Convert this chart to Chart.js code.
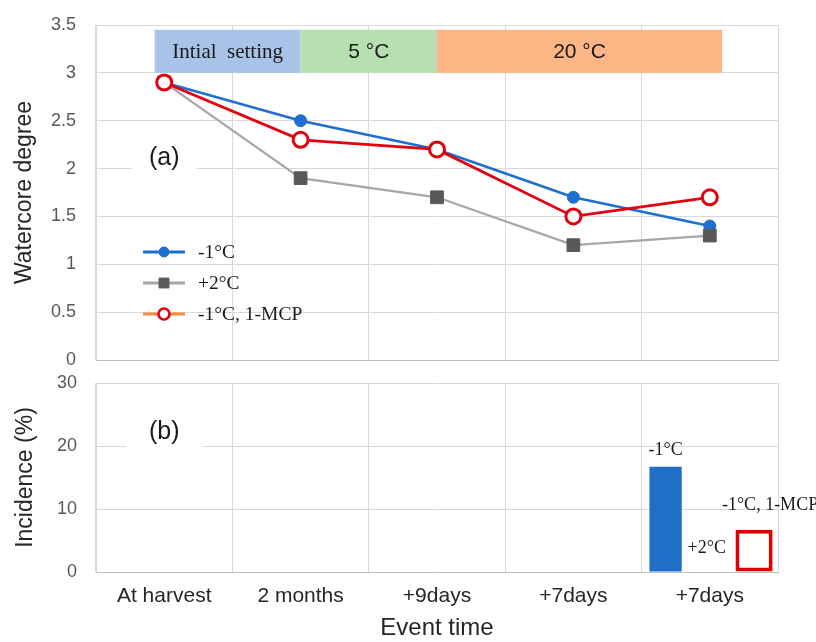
<!DOCTYPE html>
<html lang="en">
<head>
<meta charset="UTF-8">
<title>Watercore degree and incidence</title>
<script src="https://cdn.jsdelivr.net/npm/chart.js"></script>
<style>
    body { margin: 0; background: #fff; }
    #wrap { position: relative; width: 816px; height: 642px; }
    .panel { position: absolute; left: 0; width: 816px; }
    #top { top: 0; height: 372px; }
    #bottom { top: 372px; height: 270px; }
</style>
</head>
<body>
<div id="wrap">
    <div class="panel" id="top"><canvas id="watercoreChart"></canvas></div>
    <div class="panel" id="bottom"><canvas id="incidenceChart"></canvas></div>
</div>
<script>
// categories
const eventTimes = ['At harvest', '2 months', '+9days', '+7days', '+7days'];

// (a) watercore degree
const watercoreMinus1 = [2.9, 2.5, 2.2, 1.7, 1.4];
const watercorePlus2 = [2.9, 1.9, 1.7, 1.2, 1.3];
const watercoreMinus1Mcp = [2.9, 2.3, 2.2, 1.5, 1.7];

// (b) incidence (%)
const incidenceMinus1 = [null, null, null, null, 16.7];
const incidencePlus2 = [null, null, null, null, 0];
const incidenceMinus1Mcp = [null, null, null, null, 6.7];

// storage stages shown across the top of (a), in category units
const stageLabels = ['Intial  setting', '5 °C', '20 °C'];
const stageFrom = [-0.07, 1, 2];
const stageTo = [1, 2, 4.09];

Chart.defaults.font.family = '"Liberation Sans", Arial, sans-serif';
Chart.defaults.color = '#595959';
Chart.defaults.animation = false;

const SERIF = '"Liberation Serif", "Times New Roman", serif';
const GRID = '#d9d9d9';
const CLEAR = 'rgba(0,0,0,0)';

// coloured stage bands
const stagePlugin = {
    id: 'stages',
    beforeDatasetsDraw(chart, args, opts) {
        if (!opts.colors) return;
        const { ctx, scales: { x, y } } = chart;
        ctx.save();
        stageLabels.forEach((txt, i) => {
            const x0 = x.getPixelForValue(stageFrom[i]);
            const x1 = x.getPixelForValue(stageTo[i]);
            const y0 = y.getPixelForValue(opts.top);
            const y1 = y.getPixelForValue(opts.bottom);
            ctx.fillStyle = opts.colors[i];
            ctx.fillRect(x0, y0, x1 - x0, y1 - y0);
            ctx.fillStyle = '#1a1a1a';
            ctx.font = opts.fonts[i];
            ctx.textAlign = 'center';
            ctx.textBaseline = 'middle';
            ctx.fillText(txt, (x0 + x1) / 2, (y0 + y1) / 2 + 1);
        });
        ctx.restore();
    }
};

// (a) / (b) on a white patch
const panelLetter = {
    id: 'panelLetter',
    beforeDatasetsDraw(chart, args, opts) {
        const { ctx, scales: { x, y } } = chart;
        const cx = x.getPixelForValue(opts.x);
        const cy = y.getPixelForValue(opts.y);
        ctx.save();
        ctx.fillStyle = '#fff';
        ctx.fillRect(cx - opts.boxW / 2, cy - 18, opts.boxW, 36);
        ctx.fillStyle = '#1a1a1a';
        ctx.font = '25px "Liberation Sans", Arial, sans-serif';
        ctx.textAlign = 'center';
        ctx.textBaseline = 'middle';
        ctx.fillText(opts.text, cx, cy);
        ctx.restore();
    }
};

// legend drawn inside the plot of (a)
const insideLegend = {
    id: 'insideLegend',
    afterDatasetsDraw(chart, args, opts) {
        const { ctx, chartArea } = chart;
        ctx.save();
        chart.data.datasets.forEach((ds, i) => {
            const yRow = chartArea.top + opts.top + i * opts.gap;
            const x0 = chartArea.left + opts.left;
            ctx.strokeStyle = ds.legendLineColor || ds.borderColor;
            ctx.lineWidth = 3;
            ctx.beginPath();
            ctx.moveTo(x0, yRow);
            ctx.lineTo(x0 + 42, yRow);
            ctx.stroke();
            ctx.fillStyle = ds.pointBackgroundColor;
            ctx.strokeStyle = ds.pointBorderColor;
            ctx.lineWidth = ds.legendBorderWidth;
            Chart.helpers.drawPoint(ctx, {
                pointStyle: ds.pointStyle,
                radius: ds.legendPointRadius,
                rotation: 0,
                borderWidth: ds.legendBorderWidth
            }, x0 + 21, yRow);
            ctx.fillStyle = '#1a1a1a';
            ctx.font = '19.5px ' + SERIF;
            ctx.textAlign = 'left';
            ctx.textBaseline = 'middle';
            ctx.fillText(ds.label, x0 + 55, yRow + 1);
        });
        ctx.restore();
    }
};

// series names written over the bars of (b)
const barNames = {
    id: 'barNames',
    afterDatasetsDraw(chart) {
        const { ctx } = chart;
        ctx.save();
        ctx.fillStyle = '#1a1a1a';
        ctx.font = '18px ' + SERIF;
        ctx.textAlign = 'center';
        ctx.textBaseline = 'middle';
        chart.data.datasets.forEach((ds, di) => {
            chart.getDatasetMeta(di).data.forEach((bar, i) => {
                if (ds.data[i] === null) return;
                ctx.fillText(ds.label, bar.x + ds.nameDx, bar.y + ds.nameDy);
            });
        });
        ctx.restore();
    }
};

const fixedWidth = w => scale => { scale.width = w; };
const fixedHeight = h => scale => { scale.height = h; };

new Chart(document.getElementById('watercoreChart'), {
    type: 'line',
    data: {
        labels: eventTimes,
        datasets: [
            {
                label: '-1°C', data: watercoreMinus1, order: 3,
                borderColor: '#1f6fd0', borderWidth: 2.6,
                pointStyle: 'circle', pointRadius: 6,
                pointBackgroundColor: '#1f6fd0', pointBorderColor: '#1f6fd0', pointBorderWidth: 1,
                legendPointRadius: 5, legendBorderWidth: 1
            },
            {
                label: '+2°C', data: watercorePlus2, order: 2,
                borderColor: '#a6a6a6', borderWidth: 2.2,
                pointStyle: 'rect', pointRadius: 9,
                pointBackgroundColor: '#595959', pointBorderColor: '#595959', pointBorderWidth: 1,
                legendPointRadius: 7, legendBorderWidth: 1
            },
            {
                label: '-1°C, 1-MCP', data: watercoreMinus1Mcp, order: 1,
                borderColor: '#e3000f', borderWidth: 2.8,
                pointStyle: 'circle', pointRadius: 7.5,
                pointBackgroundColor: '#ffffff', pointBorderColor: '#e3000f', pointBorderWidth: 3,
                legendLineColor: '#f58a3c', legendPointRadius: 5.5, legendBorderWidth: 2.6
            }
        ]
    },
    options: {
        responsive: true,
        maintainAspectRatio: false,
        events: [],
        layout: { padding: { top: 25, right: 38, left: 0, bottom: 0 } },
        elements: { line: { tension: 0 } },
        scales: {
            x: {
                offset: true,
                grid: { offset: true, color: GRID, drawTicks: false },
                border: { color: '#bfbfbf' },
                ticks: { display: false },
                afterFit: fixedHeight(12)
            },
            y: {
                min: 0, max: 3.5,
                ticks: { stepSize: 0.5, padding: 0, font: { size: 18 }, callback: v => v },
                grid: { color: GRID, drawTicks: true, tickLength: 20, tickColor: CLEAR },
                border: { color: GRID },
                title: {
                    display: true, text: 'Watercore degree', color: '#262626',
                    font: { size: 23 }, padding: { top: 11, bottom: 0 }
                },
                afterFit: fixedWidth(96)
            }
        },
        plugins: {
            legend: { display: false },
            tooltip: { enabled: false },
            stages: {
                top: 3.45, bottom: 3.0,
                colors: ['#a7c3e7', '#b8dfb2', '#fdb585'],
                fonts: ['21px ' + SERIF, '21px "Liberation Sans", Arial, sans-serif', '21px "Liberation Sans", Arial, sans-serif']
            },
            panelLetter: { text: '(a)', x: 0, y: 2.11, boxW: 65 },
            insideLegend: { left: 47, top: 227, gap: 31 }
        }
    },
    plugins: [stagePlugin, panelLetter, insideLegend]
});

new Chart(document.getElementById('incidenceChart'), {
    type: 'bar',
    data: {
        labels: eventTimes,
        datasets: [
            {
                label: '-1°C', data: incidenceMinus1,
                backgroundColor: '#1f6fc6', borderWidth: 0,
                categoryPercentage: 0.973, barPercentage: 0.73,
                nameDx: 0, nameDy: -17
            },
            {
                label: '+2°C', data: incidencePlus2,
                backgroundColor: '#7f7f7f', borderWidth: 0,
                categoryPercentage: 0.973, barPercentage: 0.73,
                nameDx: -3, nameDy: -24
            },
            {
                label: '-1°C, 1-MCP', data: incidenceMinus1Mcp,
                backgroundColor: '#ffffff', borderColor: '#e00000', borderWidth: 4, borderSkipped: false,
                categoryPercentage: 0.973, barPercentage: 0.84,
                nameDx: 16, nameDy: -25
            }
        ]
    },
    options: {
        responsive: true,
        maintainAspectRatio: false,
        events: [],
        layout: { padding: { top: 11, right: 38, left: 0, bottom: 0 } },
        scales: {
            x: {
                grid: { offset: true, color: GRID, drawTicks: false },
                border: { color: '#bfbfbf' },
                ticks: { padding: 12, color: '#262626', font: { size: 21 } },
                title: {
                    display: true, text: 'Event time', color: '#262626',
                    font: { size: 24, lineHeight: 1.1 }, padding: { top: 0, bottom: 0 }
                },
                afterFit: fixedHeight(70)
            },
            y: {
                min: 0, max: 30,
                ticks: { stepSize: 10, padding: 0, font: { size: 18 } },
                grid: { color: GRID, drawTicks: true, tickLength: 19, tickColor: CLEAR },
                border: { color: GRID },
                title: {
                    display: true, text: 'Incidence (%)', color: '#262626',
                    font: { size: 23 }, padding: { top: 12, bottom: 0 }
                },
                afterFit: fixedWidth(96)
            }
        },
        plugins: {
            legend: { display: false },
            tooltip: { enabled: false },
            panelLetter: { text: '(b)', x: 0, y: 22.2, boxW: 77 }
        }
    },
    plugins: [panelLetter, barNames]
});
</script>
</body>
</html>
